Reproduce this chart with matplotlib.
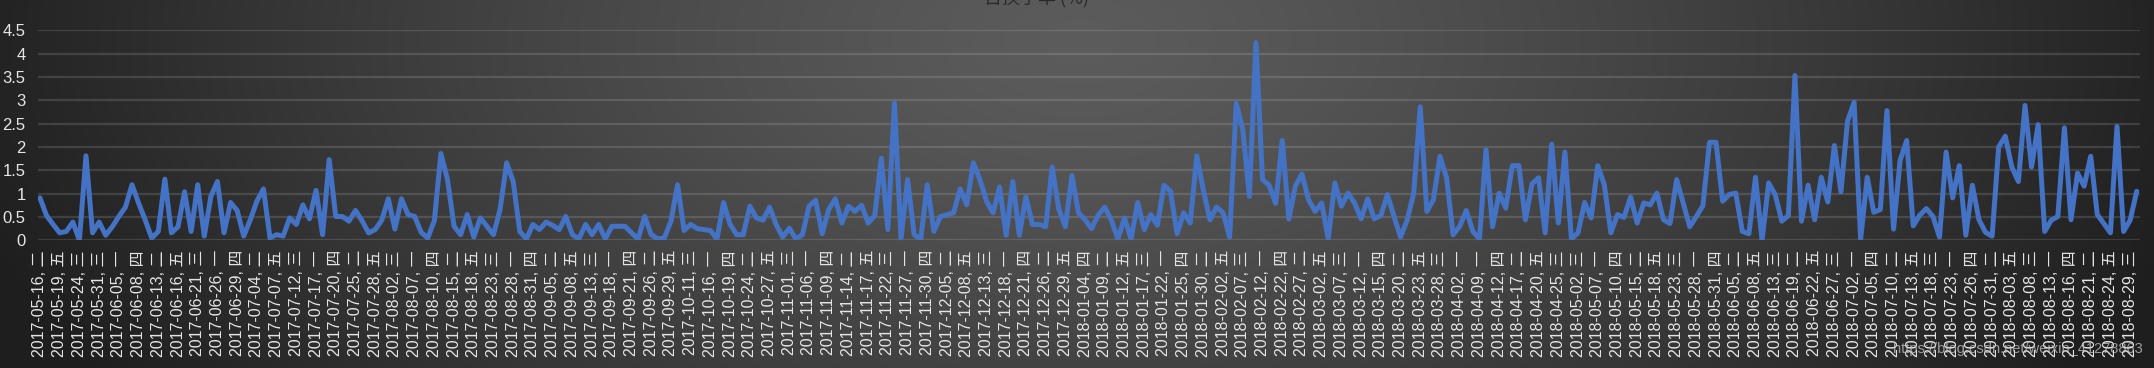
import numpy as np
import pandas as pd
import matplotlib
matplotlib.use('Agg')
import matplotlib.pyplot as plt

# trading calendar (China A-share), 2017-05-16 .. 2018-08-30
start_date = '2017-05-16'
end_date = '2018-08-30'
holidays = ['2017-05-29', '2017-05-30',
            '2017-10-02', '2017-10-03', '2017-10-04', '2017-10-05', '2017-10-06',
            '2018-01-01',
            '2018-02-15', '2018-02-16', '2018-02-19', '2018-02-20', '2018-02-21',
            '2018-04-05', '2018-04-06', '2018-04-30', '2018-05-01',
            '2018-06-18']
weekday_names = ['一', '二', '三', '四', '五']

# daily turnover (%)
turnover = [
    0.91, 0.53, 0.34, 0.16, 0.19, 0.39, 0.00, 1.81, 0.16, 0.39,
    0.11, 0.29, 0.51, 0.71, 1.19, 0.80, 0.44, 0.05, 0.19, 1.31,
    0.16, 0.29, 1.04, 0.19, 1.19, 0.09, 0.94, 1.26, 0.16, 0.81,
    0.64, 0.09, 0.44, 0.84, 1.10, 0.05, 0.12, 0.09, 0.48, 0.34,
    0.76, 0.46, 1.07, 0.12, 1.73, 0.51, 0.51, 0.41, 0.64, 0.42,
    0.16, 0.23, 0.43, 0.89, 0.24, 0.89, 0.55, 0.51, 0.17, 0.05,
    0.42, 1.86, 1.30, 0.30, 0.12, 0.55, 0.07, 0.48, 0.30, 0.12,
    0.66, 1.66, 1.26, 0.19, 0.03, 0.34, 0.23, 0.39, 0.32, 0.23,
    0.51, 0.12, 0.03, 0.34, 0.12, 0.34, 0.03, 0.30, 0.30, 0.30,
    0.16, 0.03, 0.51, 0.12, 0.03, 0.05, 0.41, 1.19, 0.21, 0.34,
    0.25, 0.23, 0.21, 0.03, 0.81, 0.34, 0.12, 0.12, 0.73, 0.48,
    0.43, 0.71, 0.34, 0.07, 0.26, 0.03, 0.12, 0.73, 0.86, 0.14,
    0.66, 0.89, 0.37, 0.73, 0.62, 0.75, 0.37, 0.53, 1.76, 0.23,
    2.94, 0.03, 1.30, 0.12, 0.03, 1.19, 0.19, 0.51, 0.55, 0.59,
    1.10, 0.76, 1.66, 1.30, 0.84, 0.59, 1.14, 0.11, 1.26, 0.11,
    0.93, 0.34, 0.34, 0.29, 1.57, 0.67, 0.29, 1.39, 0.59, 0.44,
    0.25, 0.54, 0.71, 0.43, 0.03, 0.48, 0.03, 0.81, 0.23, 0.55,
    0.32, 1.18, 1.05, 0.14, 0.59, 0.37, 1.81, 1.07, 0.44, 0.71,
    0.59, 0.07, 2.94, 2.37, 0.94, 4.23, 1.30, 1.18, 0.79, 2.14,
    0.46, 1.16, 1.42, 0.87, 0.62, 0.80, 0.03, 1.23, 0.73, 1.01,
    0.80, 0.46, 0.89, 0.46, 0.53, 0.98, 0.51, 0.07, 0.43, 1.01,
    2.86, 0.62, 0.87, 1.80, 1.34, 0.12, 0.30, 0.64, 0.19, 0.03,
    1.94, 0.29, 1.01, 0.69, 1.60, 1.60, 0.44, 1.21, 1.34, 0.16,
    2.06, 0.37, 1.89, 0.03, 0.16, 0.81, 0.48, 1.60, 1.19, 0.16,
    0.55, 0.49, 0.93, 0.37, 0.80, 0.76, 1.01, 0.44, 0.36, 1.30,
    0.80, 0.29, 0.51, 0.74, 2.10, 2.10, 0.84, 0.98, 1.01, 0.19,
    0.14, 1.35, 0.00, 1.23, 0.98, 0.41, 0.53, 3.53, 0.41, 1.18,
    0.44, 1.35, 0.82, 2.03, 1.04, 2.55, 2.96, 0.03, 1.35, 0.60,
    0.66, 2.78, 0.24, 1.71, 2.14, 0.31, 0.54, 0.68, 0.51, 0.07,
    1.89, 0.91, 1.60, 0.11, 1.18, 0.44, 0.17, 0.09, 2.00, 2.23,
    1.57, 1.26, 2.89, 1.57, 2.48, 0.19, 0.43, 0.51, 2.41, 0.44,
    1.44, 1.16, 1.80, 0.55, 0.36, 0.16, 2.44, 0.19, 0.43, 1.05,
]
y_ticks = [0, 0.5, 1, 1.5, 2, 2.5, 3, 3.5, 4, 4.5]
title_text = '日换手率 (%)'
watermark = 'https://blog.csdn.net/weixin_41278863'

days = pd.bdate_range(start_date, end_date)
days = days[~days.isin(pd.to_datetime(holidays))]
tick_labels = [f"{d.strftime('%Y-%m-%d')}, {weekday_names[d.weekday()]}" for d in days]
x = np.arange(len(turnover))

W, H = 2154, 368
fig = plt.figure(figsize=(W / 100, H / 100), dpi=100)

# dark radial background
bg = fig.add_axes([0, 0, 1, 1], zorder=-10)
gx, gy = np.meshgrid(np.linspace(0, W, 400), np.linspace(0, H, 80))
r = np.sqrt(((gx - 1080) / 1150) ** 2 + ((gy - 40) / 650) ** 2)
r = np.clip(r, 0, 1) ** 1.3
shade = 0.36 - (0.36 - 0.12) * r
bg.imshow(np.dstack([shade, shade, shade]), extent=[0, W, H, 0], aspect='auto', interpolation='bilinear')
bg.axis('off')

ax = fig.add_axes([38 / W, 1 - 240.3 / H, (2140 - 38) / W, 210 / H])
ax.patch.set_alpha(0)
ax.plot(x, turnover, color='#4472C4', lw=3.6, solid_joinstyle='round', solid_capstyle='round', zorder=3)
ax.set_xlim(-0.3, 319.5)
ax.set_ylim(0, 4.5)
ax.set_yticks(y_ticks)
ax.set_yticklabels([f'{v:g}' for v in y_ticks], color='#e6e6e6', fontsize=12, family=['Liberation Sans', 'DejaVu Sans'])
ax.set_xticks(x[::3])
ax.set_xticklabels(tick_labels[::3], rotation=90, color='#e6e6e6', fontsize=11.5,
                   family=['Liberation Sans', 'Noto Sans CJK SC'])
ax.tick_params(axis='both', length=0)
ax.tick_params(axis='y', pad=9)
ax.tick_params(axis='x', pad=7)
ax.yaxis.grid(True, color='white', alpha=0.13, lw=1.6)
ax.set_axisbelow(True)
for s in ax.spines.values():
    s.set_visible(False)

fig.text(1037 / W, 1 - 3 / H, title_text, ha='center', va='baseline', color='#2a2a2a', fontsize=13,
         family=['Noto Sans CJK SC', 'DejaVu Sans'])
fig.text(2143 / W, 1 - 349 / H, watermark, ha='right', va='center', color='#c8c8c8', alpha=0.75,
         fontsize=10.5, family=['Liberation Sans', 'DejaVu Sans'])

fig.savefig('out.png', dpi=100)
